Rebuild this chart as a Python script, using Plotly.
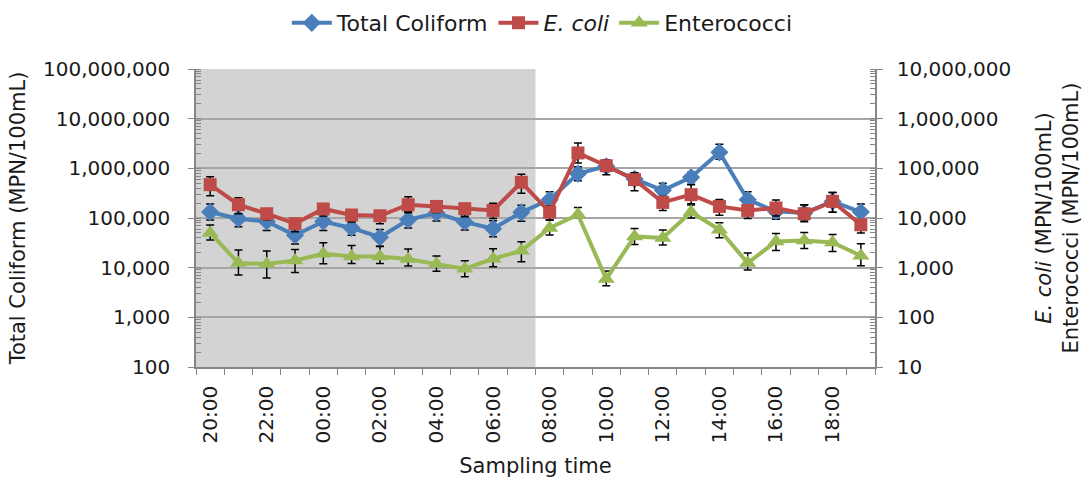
import plotly.graph_objects as go

# Hourly sampling times (24 h, starting 20:00)
times = ["20:00", "21:00", "22:00", "23:00", "00:00", "01:00", "02:00", "03:00",
         "04:00", "05:00", "06:00", "07:00", "08:00", "09:00", "10:00", "11:00",
         "12:00", "13:00", "14:00", "15:00", "16:00", "17:00", "18:00", "19:00"]

# Total coliform (left axis), MPN/100mL, with upper / lower error limits
total_coliform = [132000, 97000, 85000, 45000, 85000, 63000, 41000, 92000,
                  126000, 83000, 61000, 130000, 234000, 781000, 1100000, 611000,
                  360000, 659000, 2100000, 234000, 136000, 126000, 216000, 132000]
tc_upper = [191000, 122000, 98000, 59000, 98000, 83000, 59000, 133000,
            152000, 110000, 88000, 180000, 339000, 1081000, 1264000, 807000,
            498000, 831000, 3045000, 339000, 197000, 183000, 328000, 191000]
tc_lower = [91000, 67000, 56000, 30000, 56000, 45000, 27000, 63000,
            87000, 57000, 42000, 86000, 161000, 564000, 957000, 463000,
            273000, 476000, 1516000, 169000, 94000, 91000, 130000, 91000]

# E. coli (right axis), MPN/100mL
e_coli = [46900, 18500, 12200, 7700, 15200, 11500, 11100, 18500,
          17100, 15400, 14200, 52300, 13200, 204000, 113000, 59200,
          20600, 29500, 17100, 14200, 15900, 12200, 21600, 7300]
ec_upper = [68000, 25600, 14700, 9700, 18300, 13800, 13400, 26800,
            21600, 19400, 19700, 75800, 17400, 325000, 149000, 81900,
            27200, 46900, 23700, 17100, 23100, 18500, 32800, 9200]
ec_lower = [28100, 12200, 9200, 5300, 11000, 8300, 7700, 12800,
            12900, 10600, 9800, 31400, 9100, 128000, 74500, 35500,
            14200, 19400, 11300, 9800, 11000, 8400, 13000, 5000]

# Enterococci (right axis), MPN/100mL
enterococci = [5000, 1240, 1180, 1400, 1900, 1680, 1680, 1490,
               1180, 950, 1510, 2190, 6300, 11700, 590, 4260,
               3950, 13200, 5800, 1240, 3370, 3530, 3220, 1740]
en_upper = [7250, 2270, 2160, 2330, 3170, 2800, 2670, 2370,
            1710, 1380, 2400, 3320, 9140, 16200, 860, 6180,
            5730, 18300, 8030, 1970, 4890, 5120, 4670, 3040]
en_lower = [3610, 710, 620, 800, 1200, 1210, 1210, 1080,
            850, 660, 1040, 1310, 4550, 10200, 430, 2940,
            2850, 10000, 4000, 900, 2220, 2440, 2120, 1090]

# Night-time period shaded in grey (first 12 samples)
night_samples = 12

left_ticks = [100, 1000, 10000, 100000, 1000000, 10000000, 100000000]
right_ticks = [10, 100, 1000, 10000, 100000, 1000000, 10000000]

FONT = "DejaVu Sans"
AXIS_GREY = "#868686"
GRID_GREY = "#a6a6a6"

x = list(range(len(times)))


def err(values, upper, lower):
    return dict(type="data", symmetric=False,
                array=[u - v for u, v in zip(upper, values)],
                arrayminus=[v - l for v, l in zip(values, lower)],
                color="black", thickness=1.5, width=4)


fig = go.Figure()

fig.add_trace(go.Scatter(
    x=x, y=total_coliform, name="Total Coliform", mode="lines+markers",
    line=dict(color="#4A7EBB", width=4),
    marker=dict(symbol="diamond", size=14, color="#4A7EBB"),
    error_y=err(total_coliform, tc_upper, tc_lower), yaxis="y"))

fig.add_trace(go.Scatter(
    x=x, y=e_coli, name="<i>E. coli</i>", mode="lines+markers",
    line=dict(color="#BE4B48", width=4),
    marker=dict(symbol="square", size=13, color="#BE4B48"),
    error_y=err(e_coli, ec_upper, ec_lower), yaxis="y2"))

fig.add_trace(go.Scatter(
    x=x, y=enterococci, name="Enterococci", mode="lines+markers",
    line=dict(color="#98B954", width=4),
    marker=dict(symbol="triangle-up", size=15, color="#98B954"),
    error_y=err(enterococci, en_upper, en_lower), yaxis="y2"))

fig.add_shape(type="rect", xref="x", yref="paper",
              x0=-0.5, x1=night_samples - 0.5, y0=0, y1=1,
              fillcolor="#D3D3D3", line_width=0, layer="below")

tick_font = dict(family=FONT, size=20, color="#1a1a1a")
title_font = dict(family=FONT, size=21, color="#1a1a1a")

fig.update_layout(
    width=1084, height=479,
    margin=dict(l=196, r=209, t=69, b=112, autoexpand=False),
    paper_bgcolor="white", plot_bgcolor="white",
    font=dict(family=FONT, color="#1a1a1a"),
    showlegend=True,
    legend=dict(orientation="h", x=0.51, xanchor="center",
                yref="container", y=0.952, yanchor="middle",
                font=dict(family=FONT, size=22),
                itemwidth=40, tracegroupgap=0, bgcolor="rgba(0,0,0,0)"),
    xaxis=dict(
        range=[-0.5, len(times) - 0.5], showgrid=False, zeroline=False,
        tickmode="array", tickvals=x[::2], ticktext=times[::2],
        tickangle=-90, tickfont=tick_font,
        ticks="outside", ticklen=9, tickcolor="rgba(0,0,0,0)",
        minor=dict(ticks="outside", ticklen=6, tick0=-0.5, dtick=1,
                   tickcolor=AXIS_GREY, showgrid=False),
        showline=True, linecolor=AXIS_GREY, linewidth=1.5,
        title=dict(text="Sampling time", font=title_font, standoff=16)),
    yaxis=dict(
        type="log", range=[2, 8], tickmode="array", tickvals=left_ticks,
        ticktext=[f"{v:,}" for v in left_ticks], tickfont=tick_font,
        showgrid=True, gridcolor=GRID_GREY, gridwidth=1.5, zeroline=False,
        ticks="outside", ticklen=6, tickcolor=AXIS_GREY, ticklabelstandoff=14,
        minor=dict(ticks="inside", ticklen=5, dtick="D1",
                   tickcolor=AXIS_GREY, showgrid=False),
        showline=True, linecolor=AXIS_GREY, linewidth=1.5,
        title=dict(text="Total Coliform (MPN/100mL)", font=title_font,
                   standoff=12)),
    yaxis2=dict(
        type="log", range=[1, 7], overlaying="y", side="right",
        tickmode="array", tickvals=right_ticks,
        ticktext=[f"{v:,}" for v in right_ticks], tickfont=tick_font,
        showgrid=False, zeroline=False,
        ticks="outside", ticklen=6, tickcolor=AXIS_GREY, ticklabelstandoff=10,
        minor=dict(ticks="inside", ticklen=5, dtick="D1",
                   tickcolor=AXIS_GREY, showgrid=False),
        showline=True, linecolor=AXIS_GREY, linewidth=1.5,
        title=dict(text="<i>E. coli</i> (MPN/100mL)<br>Enterococci (MPN/100mL)",
                   font=title_font, standoff=26)),
)

fig.write_html("out.html")
